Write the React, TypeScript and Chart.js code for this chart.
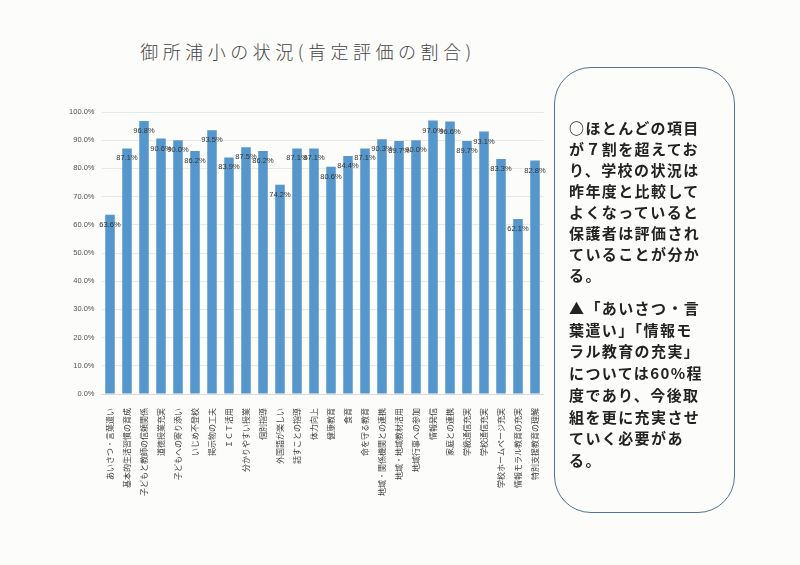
import React, { useEffect, useRef } from "react";
import { Chart, registerables } from "chart.js";

Chart.register(...registerables);

const categories: string[] = [
  "あいさつ・言葉遣い",
  "基本的生活習慣の育成",
  "子どもと教師の信頼関係",
  "道徳授業充実",
  "子どもへの寄り添い",
  "いじめ不登校",
  "掲示物の工夫",
  "ＩＣＴ活用",
  "分かりやすい授業",
  "個別指導",
  "外国語が楽しい",
  "話すことの指導",
  "体力向上",
  "健康教育",
  "食育",
  "命を守る教育",
  "地域・関係機関との連携",
  "地域・地域教材活用",
  "地域行事への参加",
  "情報発信",
  "家庭との連携",
  "学級通信充実",
  "学校通信充実",
  "学校ホームページ充実",
  "情報モラル教育の充実",
  "特別支援教育の理解",
];

const values: number[] = [
  63.6, 87.1, 96.8, 90.6, 90.0, 86.2, 93.5, 83.9, 87.5, 86.2, 74.2, 87.1, 87.1,
  80.6, 84.4, 87.1, 90.3, 89.7, 90.0, 97.0, 96.6, 89.7, 93.1, 83.3, 62.1, 82.8,
];

const yTicks: number[] = [0, 10, 20, 30, 40, 50, 60, 70, 80, 90, 100];

const titleText = "御所浦小の状況(肯定評価の割合)";

const noteLines1: string[] = [
  "○ほとんどの項目",
  "が７割を超えてお",
  "り、学校の状況は",
  "昨年度と比較して",
  "よくなっていると",
  "保護者は評価され",
  "ていることが分か",
  "る。",
];

const noteLines2: string[] = [
  "▲「あいさつ・言",
  "葉遣い」「情報モ",
  "ラル教育の充実」",
  "については60%程",
  "度であり、今後取",
  "組を更に充実させ",
  "ていく必要があ",
  "る。",
];

const labelPlugin = {
  id: "barValueLabels",
  afterDatasetsDraw(chart: any) {
    const ctx = chart.ctx;
    const meta = chart.getDatasetMeta(0);
    ctx.save();
    ctx.font = "7.5px 'Liberation Sans', Arial, sans-serif";
    ctx.fillStyle = "#333333";
    ctx.textAlign = "center";
    ctx.textBaseline = "middle";
    meta.data.forEach((el: any, i: number) => {
      const v = chart.data.datasets[0].data[i] as number;
      ctx.fillText(v.toFixed(1) + "%", el.x, el.y + 10);
    });
    ctx.restore();
  },
};

export default function App() {
  const canvasRef = useRef<HTMLCanvasElement | null>(null);

  useEffect(() => {
    if (!canvasRef.current) return;
    const chart = new Chart(canvasRef.current, {
      type: "bar",
      data: {
        labels: categories,
        datasets: [
          {
            data: values,
            backgroundColor: "#5597cc",
            borderWidth: 0,
            barPercentage: 0.56,
            categoryPercentage: 1,
          },
        ],
      },
      options: {
        animation: false,
        responsive: false,
        maintainAspectRatio: false,
        devicePixelRatio: 1,
        layout: { padding: { top: 12, right: 11.5, left: 0, bottom: 0 } },
        plugins: {
          legend: { display: false },
          tooltip: { enabled: false },
          title: { display: false },
        },
        scales: {
          x: {
            grid: { display: false },
            border: { display: true, color: "#d9d9d9" },
            ticks: {
              autoSkip: false,
              maxRotation: 90,
              minRotation: 90,
              padding: 6,
              color: "#404040",
              font: { size: 8, family: "'Noto Sans CJK JP', sans-serif" },
            },
            afterFit: (scale: any) => {
              scale.height = 106;
            },
          },
          y: {
            min: 0,
            max: 100,
            border: { display: false },
            grid: { color: "#e8e8e8", drawTicks: false },
            afterBuildTicks: (scale: any) => {
              scale.ticks = yTicks.map((v) => ({ value: v }));
            },
            ticks: {
              padding: 7,
              color: "#505050",
              font: { size: 7.5, family: "'Liberation Sans', Arial, sans-serif" },
              callback: (v: any) => Number(v).toFixed(1) + "%",
            },
            afterFit: (scale: any) => {
              scale.width = 41.5;
            },
          },
        },
      },
      plugins: [labelPlugin],
    });
    return () => chart.destroy();
  }, []);

  const noteStyle: React.CSSProperties = {
    fontFamily: "'Noto Sans CJK JP', sans-serif",
    fontWeight: 700,
    fontSize: 15,
    letterSpacing: 1.4,
    lineHeight: "21px",
    color: "#222",
    whiteSpace: "nowrap",
  };

  return (
    <div
      style={{
        position: "fixed",
        left: 0,
        top: 0,
        width: 800,
        height: 565,
        background: "#fcfcfa",
        overflow: "hidden",
      }}
    >
      <div
        style={{
          position: "absolute",
          left: 0,
          width: 616,
          top: 38,
          textAlign: "center",
          fontFamily: "'Noto Sans CJK JP', sans-serif",
          fontWeight: 300,
          fontSize: 18,
          letterSpacing: 4.5,
          color: "#444",
          lineHeight: "26px",
          whiteSpace: "nowrap",
        }}
      >
        {titleText}
      </div>
      <canvas
        ref={canvasRef}
        width={495}
        height={400}
        style={{ position: "absolute", left: 60, top: 100, width: 495, height: 400 }}
      />
      <div
        style={{
          position: "absolute",
          left: 554,
          top: 67,
          width: 181,
          height: 446,
          boxSizing: "border-box",
          border: "1.4px solid #56718e",
          borderRadius: 37,
        }}
      />
      <div style={{ position: "absolute", left: 569, top: 117, ...noteStyle }}>
        {noteLines1.map((l, i) => (
          <div key={i}>{l}</div>
        ))}
      </div>
      <div style={{ position: "absolute", left: 569, top: 297, ...noteStyle, lineHeight: "21.7px" }}>
        {noteLines2.map((l, i) => (
          <div key={i}>{l}</div>
        ))}
      </div>
    </div>
  );
}
